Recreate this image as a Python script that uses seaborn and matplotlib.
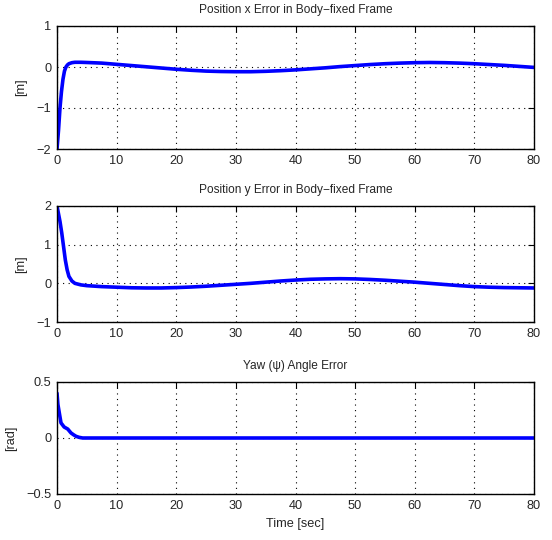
import matplotlib
matplotlib.use("Agg")
import matplotlib.pyplot as plt
import seaborn as sns
import pandas as pd

# ---- data ----
t_x = [0, 0.25, 0.5, 0.75, 1.0, 1.25, 1.5, 1.75, 2.0, 2.5, 3, 4, 5, 7.5, 10, 12.5, 15, 17.5,
       20, 22.5, 25, 27.5, 30, 32.5, 35, 37.5, 40, 42.5, 45, 47.5, 50, 52.5, 55, 57.5,
       60, 62.5, 65, 67.5, 70, 72.5, 75, 77.5, 80]
err_x = [-2.0, -1.55, -1.0, -0.6, -0.3, -0.1, 0.0, 0.05, 0.08, 0.105, 0.115, 0.115, 0.11,
         0.095, 0.065, 0.035, 0.005, -0.025, -0.055, -0.08, -0.1, -0.11, -0.115, -0.115,
         -0.105, -0.09, -0.07, -0.045, -0.02, 0.01, 0.035, 0.06, 0.08, 0.095, 0.105, 0.11,
         0.105, 0.095, 0.08, 0.06, 0.04, 0.015, -0.01]

t_y = [0, 0.5, 0.8, 1.1, 1.4, 1.7, 2.0, 2.5, 3, 4, 5, 7.5, 10, 12.5, 15, 17.5, 20, 22.5,
       25, 27.5, 30, 32.5, 35, 37.5, 40, 42.5, 45, 47.5, 50, 52.5, 55, 57.5, 60, 62.5,
       65, 67.5, 70, 72.5, 75, 77.5, 80]
err_y = [2.0, 1.6, 1.3, 0.95, 0.6, 0.35, 0.18, 0.06, 0.0, -0.04, -0.06, -0.085, -0.1,
         -0.115, -0.12, -0.12, -0.11, -0.095, -0.075, -0.05, -0.025, 0.0, 0.03, 0.06,
         0.085, 0.105, 0.115, 0.12, 0.115, 0.1, 0.08, 0.055, 0.03, 0.0, -0.03, -0.06,
         -0.085, -0.1, -0.11, -0.115, -0.12]

t_psi = [0, 0.15, 0.4, 0.67, 1.2, 1.8, 2.35, 2.8, 3.2, 3.7, 4.3, 5, 10, 20, 30, 40, 50,
         60, 70, 80]
err_psi = [0.40, 0.3, 0.22, 0.135, 0.098, 0.08, 0.045, 0.028, 0.015, 0.006, 0.0, 0.0, 0.0,
           0.0, 0.0, 0.0, 0.0, 0.0, 0.0, 0.0]

titles = ["Position x Error in Body\u2212fixed Frame",
          "Position y Error in Body\u2212fixed Frame",
          "Yaw (\u03c8) Angle Error"]
ylabels = ["[m]", "[m]", "[rad]"]
ylims = [(-2, 1), (-1, 2), (-0.5, 0.5)]
yticks = [[-2, -1, 0, 1], [-1, 0, 1, 2], [-0.5, 0, 0.5]]
ytick_labels = [["\u22122", "\u22121", "0", "1"], ["\u22121", "0", "1", "2"],
                ["\u22120.5", "0", "0.5"]]
xticks = [0, 10, 20, 30, 40, 50, 60, 70, 80]

sns.set_style("white")
plt.rcParams["font.family"] = ["Liberation Sans", "DejaVu Sans"]
plt.rcParams["axes.unicode_minus"] = True

fig = plt.figure(figsize=(5.52, 5.40), dpi=100)
boxes = [
    [57 / 552, 1 - 149 / 540, 477 / 552, 123 / 540],
    [57 / 552, 1 - 322 / 540, 477 / 552, 116 / 540],
    [57 / 552, 1 - 494 / 540, 477 / 552, 112 / 540],
]
ylabel_x = [-0.063, -0.063, -0.084]
series = [(t_x, err_x), (t_y, err_y), (t_psi, err_psi)]

for i in range(3):
    ax = fig.add_axes(boxes[i])
    df = pd.DataFrame({"t": series[i][0], "e": series[i][1]})
    sns.lineplot(data=df, x="t", y="e", ax=ax, color=(0, 0, 1), linewidth=2.6,
                 estimator=None, sort=False)
    ax.set_xlim(0, 80)
    ax.set_ylim(*ylims[i])
    ax.set_xticks(xticks)
    ax.set_xticklabels([str(v) for v in xticks])
    ax.set_yticks(yticks[i])
    ax.set_yticklabels(ytick_labels[i])
    ax.grid(True, color="black", linestyle=(0, (1, 4)), linewidth=0.8)
    ax.set_axisbelow(True)
    ax.tick_params(direction="in", top=True, right=True, length=4, width=0.8,
                   labelsize=9.2, pad=4, color="black")
    for s in ax.spines.values():
        s.set_color("black")
        s.set_linewidth(1.0)
    ax.set_title(titles[i], fontsize=8.6, pad=9)
    ax.set_ylabel(ylabels[i], fontsize=9.2)
    ax.yaxis.set_label_coords(ylabel_x[i], 0.5)
    if i == 2:
        ax.set_xlabel("Time [sec]", fontsize=9.2, labelpad=5)
    else:
        ax.set_xlabel("")

fig.savefig("out.png", dpi=100)
